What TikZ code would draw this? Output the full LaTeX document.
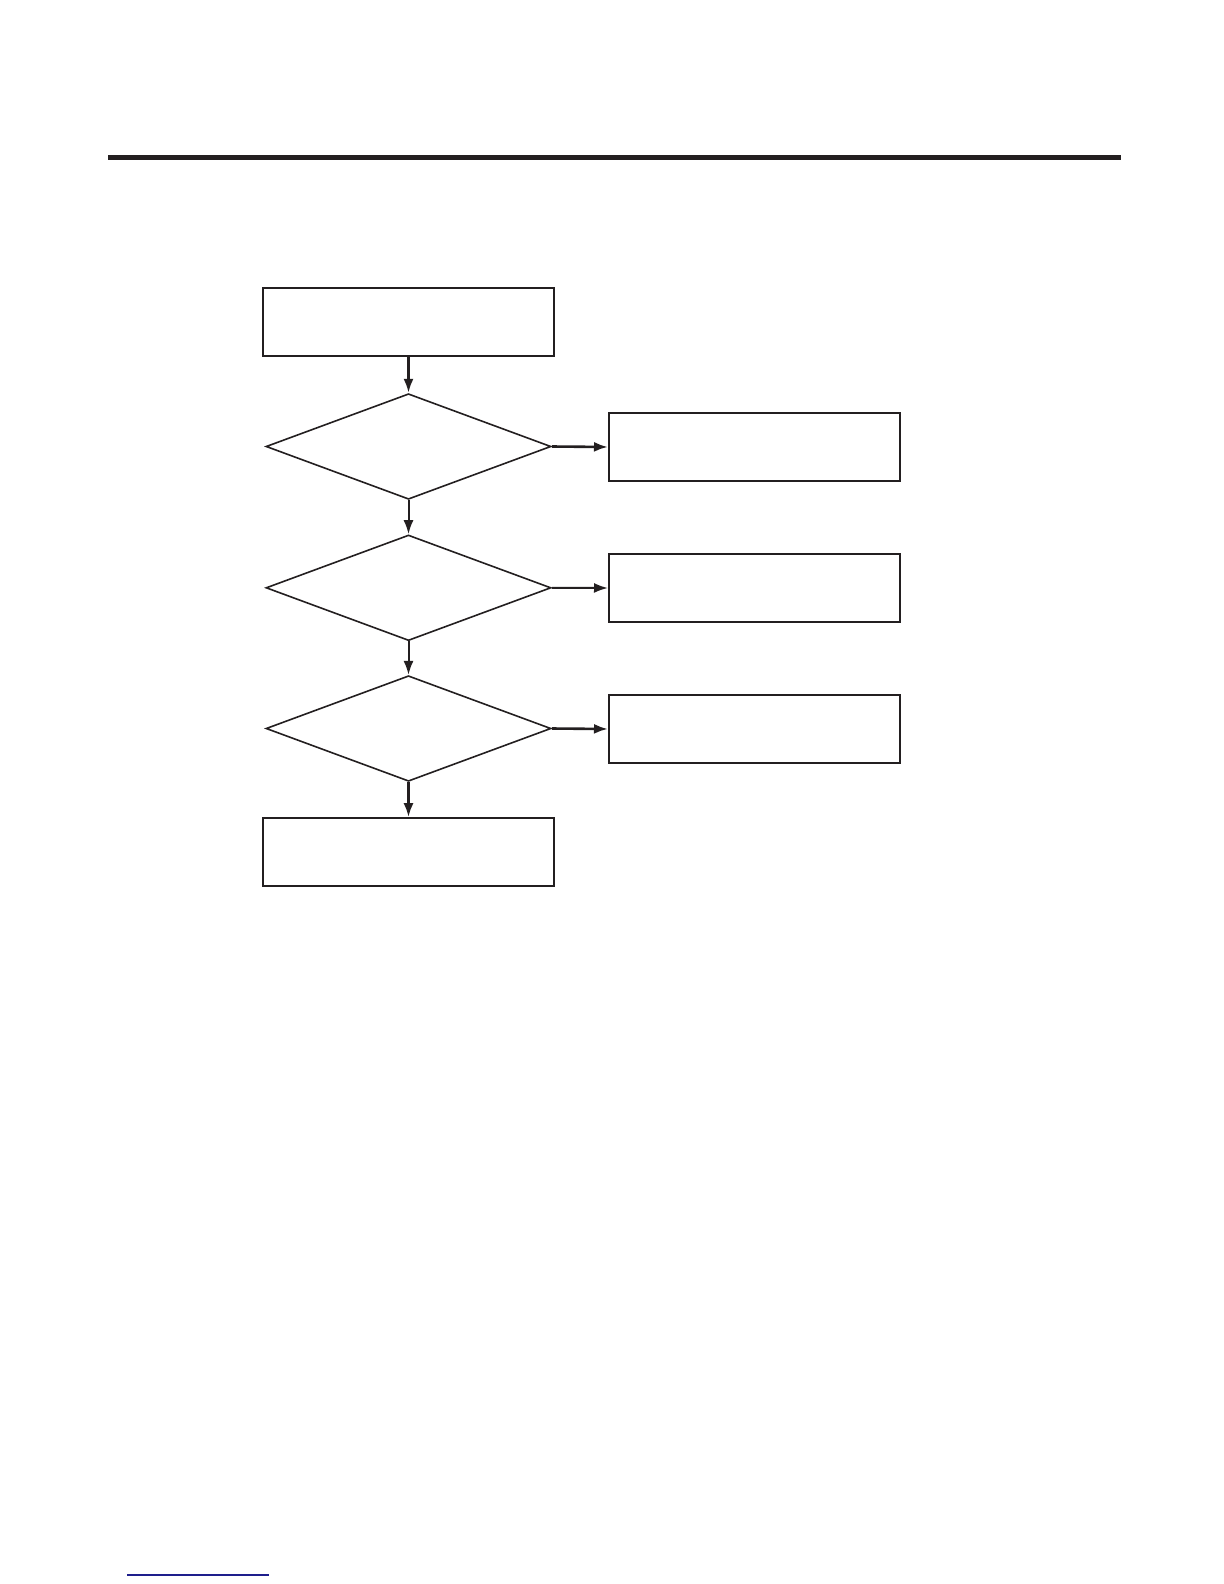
\documentclass[tikz,border=0pt]{standalone}
\usetikzlibrary{shapes.geometric,arrows.meta}
\definecolor{ink}{RGB}{35,31,32}
\definecolor{linkblue}{RGB}{30,30,140}
\begin{document}
\begin{tikzpicture}[x=0.5pt,y=-0.5pt,
  procbox/.style={draw=ink,line width=0.8pt,minimum width=145.5pt,minimum height=34pt,inner sep=0pt},
  decide/.style={draw=ink,line width=0.8pt,diamond,aspect=2.7,minimum width=142.5pt,minimum height=52.8pt,inner sep=0pt},
  flow/.style={draw=ink,line width=1pt,-{Latex[length=7pt,width=5pt]}},
  flowthick/.style={flow,line width=1.3pt}]
\useasboundingbox (0,0) rectangle (1224,1584);
\fill[ink] (108,154.5) rectangle (1121,159.5);
\draw[linkblue,line width=0.8pt] (127,1575) -- (269,1575);
\node[procbox] (start) at (408.5,322) {};
\node[decide] (d1) at (408.5,446.5) {};
\node[decide] (d2) at (408.5,587.8) {};
\node[decide] (d3) at (408.5,728.5) {};
\node[procbox] (r1) at (754.3,447) {};
\node[procbox] (r2) at (754.3,588) {};
\node[procbox] (r3) at (754.3,729) {};
\node[procbox] (end) at (408.5,852) {};
\draw[flowthick] (start.south) -- (d1.north);
\draw[flow] (d1.south) -- (d2.north);
\draw[flow] (d2.south) -- (d3.north);
\draw[flowthick] (d3.south) -- (end.north);
\draw[flowthick] (d1.east) -- (r1.west);
\draw[flow] (d2.east) -- (r2.west);
\draw[flowthick] (d3.east) -- (r3.west);
\end{tikzpicture}
\end{document}
